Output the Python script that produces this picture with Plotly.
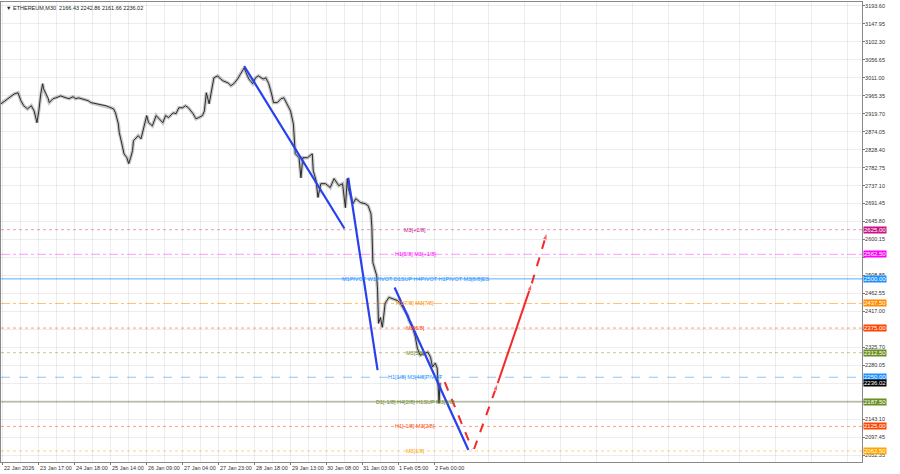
import plotly.graph_objects as go

title_text = "ETHEREUM,M30  2166.43 2242.86 2161.66 2236.02"

# bar index / close price
bar_idx = [0, 14, 18, 21, 24, 28, 32, 35, 38, 40, 42, 44, 45, 50, 51, 55, 58, 63, 69, 72, 76, 79, 82,
           88, 92, 95, 100, 106, 111, 116, 119, 121, 124, 125, 128, 130, 133, 135, 137, 139, 140,
           145, 148, 151, 154, 156, 160, 164, 167, 171, 174, 177, 182, 185, 188, 192, 195, 198, 203,
           206, 209, 213, 215, 217, 220, 223, 225, 229, 232, 235, 240, 243, 246, 250, 253, 257, 259,
           262, 266, 269, 272, 277, 280, 283, 286, 288, 292, 296, 299, 303, 306, 309, 311, 315, 317,
           319, 324, 329, 330, 333, 335, 338, 343, 348, 352, 357, 361, 364, 366, 367, 372, 375, 380,
           385, 388, 391, 392, 393, 395, 397, 398, 399, 401, 403, 404, 406, 410, 414, 419, 422, 425,
           430, 431, 435, 438, 440, 443, 447, 451, 454, 456, 459, 461, 463, 464]
close = [2945, 2970, 2973, 2953, 2940, 2932, 2940, 2927, 2897, 2927, 2970, 2996, 2983, 2958, 2948,
         2958, 2960, 2965, 2960, 2958, 2963, 2958, 2960, 2955, 2953, 2948, 2945, 2943, 2940, 2935,
         2932, 2922, 2894, 2872, 2844, 2818, 2808, 2793, 2808, 2826, 2851, 2864, 2856, 2889, 2915,
         2897, 2889, 2915, 2907, 2897, 2915, 2910, 2922, 2920, 2935, 2935, 2940, 2935, 2920, 2907,
         2910, 2915, 2927, 2973, 2945, 2991, 3011, 3016, 3008, 3003, 2998, 2991, 2996, 3008, 3021,
         3036, 3024, 3008, 2996, 3011, 3016, 3008, 3011, 2996, 2970, 2948, 2948, 2958, 2960, 2940,
         2927, 2894, 2818, 2808, 2757, 2808, 2808, 2818, 2775, 2750, 2707, 2742, 2742, 2732, 2755,
         2737, 2742, 2681, 2755, 2730, 2691, 2704, 2694, 2691, 2686, 2666, 2631, 2542, 2527, 2509,
         2471, 2387, 2402, 2377, 2395, 2438, 2453, 2450, 2445, 2438, 2425, 2407, 2395, 2377, 2352,
         2324, 2306, 2311, 2314, 2301, 2276, 2286, 2273, 2184, 2236]

# wave lines (blue)
wave_segments = [
    ([257, 363], [3041, 2628]),
    ([367, 398], [2757, 2268]),
    ([416, 494], [2478, 2065]),
]
# projection (red)
proj_down_x = [469, 498]
proj_down_y = [2237.5, 2067.6]
proj_up1_x = [500, 525]
proj_up1_y = [2067.6, 2235.0]
proj_up2_x = [525, 561]
proj_up2_y = [2235.0, 2488.6]
proj_up3_x = [561, 577]
proj_up3_y = [2488.6, 2617.9]

# Murrey / pivot levels
level_prices = [2625.0, 2562.5, 2500.0, 2437.5, 2375.0, 2312.5, 2250.0, 2187.5, 2125.0, 2062.5]
level_names = ["M3[+2/8]", "H1[5/8] M3[+1/8]",
               "M1PIVOT W1PIVOT D1SUP H4PIVOT H1PIVOT M3[8/8]ES",
               "H1[7/8] M3[7/8]", "M3[6/8]", "M3[5/8]", "H1[1/8] M3[4/8]PIVOT",
               "D1[-1/8] H4[2/8] H1SUP M3[3/8]", "H1[-1/8] M3[2/8]", "M3[1/8]"]
level_tags = ["2625.00", "2562.50", "2500.00", "2437.50", "2375.00", "2312.50", "2250.00",
              "2187.50", "2125.00", "2062.50"]
level_colors = ["#C71585", "#FF00FF", "#1E90FF", "#FF8C00", "#FF4500", "#6B8E23", "#1E90FF",
                "#6B8E23", "#FF4500", "#FFA500"]
level_line_colors = ["#E59AC9", "#FF99FF", "#5AAEFF", "#FFC27A", "#FFA080", "#C8C89A", "#8CC6FF",
                     "#C9C9BB", "#FFA080", "#FFD08A"]
level_dash = ["dot", "dashdot", "solid", "dashdot", "dot", "dot", "dash", "solid", "dot", "dot"]
level_width = [1, 1, 1, 1, 1, 1, 1, 2, 1, 1]

current_price = 2236.02

y_tick_vals = [3193.60, 3147.95, 3102.30, 3056.65, 3011.00, 2965.35, 2919.70, 2874.05, 2828.40,
               2782.75, 2737.10, 2691.45, 2645.80, 2600.15, 2554.50, 2508.85, 2463.20, 2417.55,
               2371.90, 2326.25, 2280.60, 2234.95, 2189.30, 2143.65, 2098.00, 2052.35]
y_tick_text = ["3193.60", "3147.95", "3102.30", "3056.65", "3011.00", "2965.35", "2919.70",
               "2874.05", "2828.40", "2782.75", "2737.10", "2691.45", "2645.80", "2600.15", "",
               "2508.85", "2462.55", "2417.00", "", "2325.70", "2280.05", "", "", "2143.10",
               "2097.45", "2052.35"]

x_tick_idx = [2, 40, 78, 116, 154, 192, 230, 268, 306, 344, 382, 420, 458]
x_tick_labels = ["22 Jan 2026", "23 Jan 17:00", "24 Jan 18:00", "25 Jan 14:00", "26 Jan 09:00",
                 "27 Jan 04:00", "27 Jan 23:00", "28 Jan 18:00", "29 Jan 13:00", "30 Jan 08:00",
                 "31 Jan 03:00", "1 Feb 05:00", "2 Feb 00:00"]

FONT = "Liberation Sans, Arial, sans-serif"
fig = go.Figure()

# horizontal levels
for p, c, d, w in zip(level_prices, level_line_colors, level_dash, level_width):
    fig.add_hline(y=p, line=dict(color=c, dash=d, width=w), layer="below")

# price line with grey shadow (wicks)
fig.add_trace(go.Scatter(x=bar_idx, y=close, mode="lines",
                         line=dict(color="rgba(130,130,130,0.45)", width=3.5), hoverinfo="skip"))
fig.add_trace(go.Scatter(x=bar_idx, y=close, mode="lines",
                         line=dict(color="#1a1a1a", width=0.9)))

for xs, ys in wave_segments:
    fig.add_trace(go.Scatter(x=xs, y=ys, mode="lines", line=dict(color="#2840F0", width=2.2)))

red = "#F42A2A"
fig.add_trace(go.Scatter(x=proj_down_x, y=proj_down_y, mode="lines",
                         line=dict(color=red, width=2, dash="dash")))
for xs, ys, dsh in [(proj_up1_x, proj_up1_y, "dash"), (proj_up2_x, proj_up2_y, "solid"),
                    (proj_up3_x, proj_up3_y, "dash")]:
    fig.add_trace(go.Scatter(x=xs, y=ys, mode="lines+markers",
                             line=dict(color=red, width=2, dash=dsh),
                             marker=dict(symbol="arrow", angleref="previous", size=[0, 8],
                                         color=red)))

# level text labels
for p, name, c in zip(level_prices, level_names, level_colors):
    fig.add_annotation(x=438, y=p, text=name, showarrow=False, xanchor="center", yanchor="middle",
                       font=dict(size=5.5, color=c, family=FONT))

# right axis tags
for p, tag, c in zip(level_prices, level_tags, level_colors):
    fig.add_annotation(x=1.0, xref="paper", y=p, text=tag, showarrow=False, xanchor="left",
                       yanchor="middle", xshift=1, bgcolor=c, borderpad=0,
                       font=dict(size=6, color="white", family=FONT))
fig.add_annotation(x=1.0, xref="paper", y=current_price, text=f"{current_price:.2f}",
                   showarrow=False, xanchor="left", yanchor="middle", xshift=1, bgcolor="#000000",
                   borderpad=0, font=dict(size=6, color="white", family=FONT))

# x-axis labels (left aligned at their bar, as in the terminal)
for xi, lab in zip(x_tick_idx, x_tick_labels):
    fig.add_annotation(x=xi, y=0, yref="paper", text=lab, showarrow=False, xanchor="left",
                       yanchor="top", yshift=-1, xshift=-1,
                       font=dict(size=5.5, color="#333", family=FONT))

# title
fig.add_annotation(x=0, xref="paper", y=1, yref="paper", text="▼ " + title_text, showarrow=False,
                   xanchor="left", yanchor="top", xshift=3, yshift=-1,
                   font=dict(size=5.5, color="#222", family=FONT))

grid = "rgba(0,0,0,0.07)"
fig.update_layout(
    width=900, height=474,
    margin=dict(l=1, r=38, t=2, b=12),
    paper_bgcolor="white", plot_bgcolor="white",
    showlegend=False,
    font=dict(family=FONT, size=6, color="#333"),
    xaxis=dict(range=[0, 910], tickmode="array", tickvals=x_tick_idx,
               ticktext=[""] * len(x_tick_idx),
               ticks="outside", ticklen=2, tickcolor="#777", showline=True, linecolor="#888",
               mirror=True, showgrid=True, gridcolor=grid, zeroline=False,
               minor=dict(tickmode="linear", tick0=21, dtick=38, showgrid=True, gridcolor=grid)),
    yaxis=dict(range=[2034.6, 3203.7], side="right", tickmode="array", tickvals=y_tick_vals,
               ticktext=y_tick_text, ticks="outside", ticklen=2, tickcolor="#777",
               showline=True, linecolor="#888", mirror=True, showgrid=True, gridcolor=grid,
               ticklabelstandoff=-1,
               zeroline=False, tickfont=dict(size=5.5, color="#333", family=FONT)),
)

fig.write_html("out.html", config={"displayModeBar": False},
               post_script="document.body.style.margin='0';")
